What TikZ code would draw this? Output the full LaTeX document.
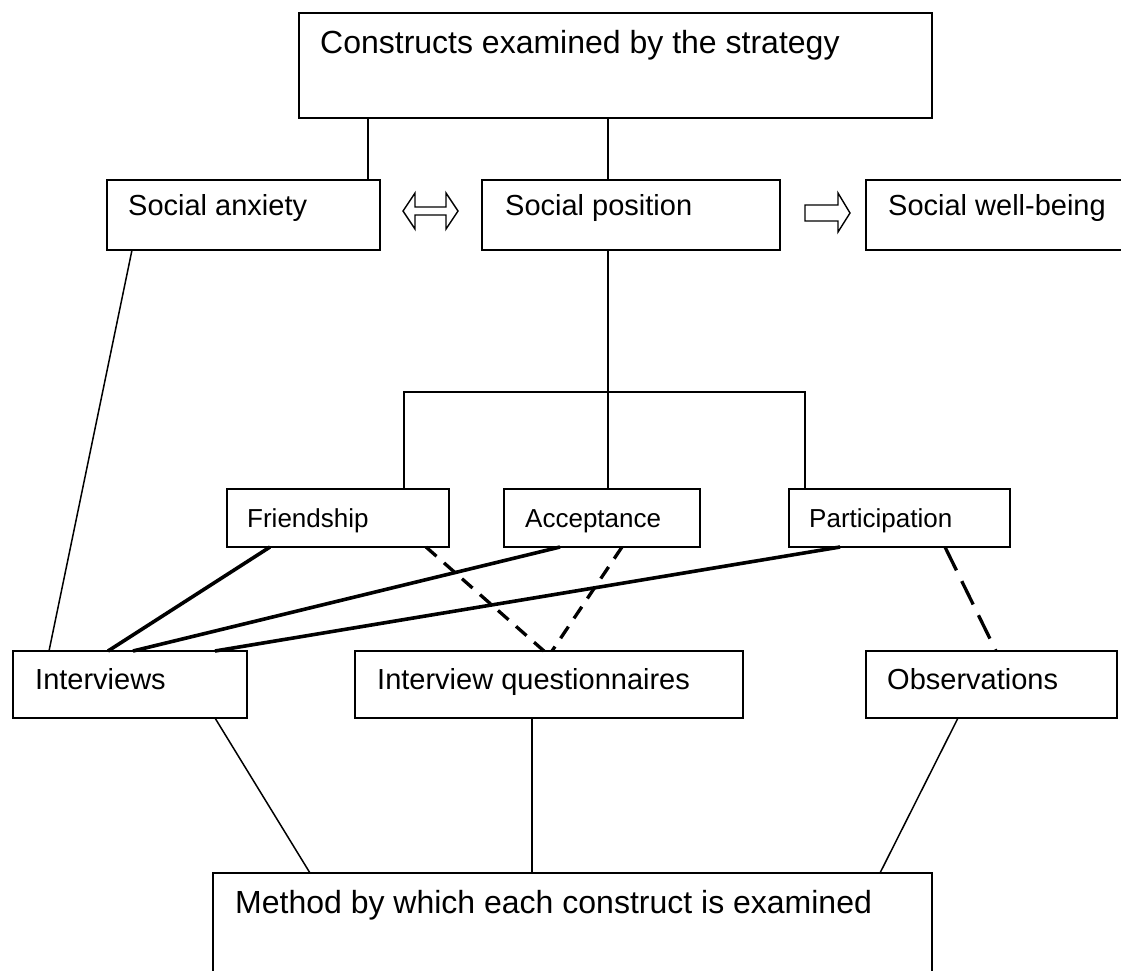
\documentclass[tikz,border=0pt]{standalone}
\usepackage{fontspec}
\setmainfont{Liberation Sans}
\begin{document}
\begin{tikzpicture}[x=1pt,y=-1pt,
  box/.style={draw, line width=1.7pt, inner sep=0pt, outer sep=0pt, anchor=north west},
  headtxt/.style={font=\fontsize{32}{38}\selectfont, anchor=base west, inner sep=0pt},
  maintxt/.style={font=\fontsize{29}{34}\selectfont, anchor=base west, inner sep=0pt},
  subtxt/.style={font=\fontsize{26}{31}\selectfont, anchor=base west, inner sep=0pt},
  conn/.style={line width=1.5pt},
  strongline/.style={line width=3.6pt},
  shortdash/.style={line width=3.3pt, dash pattern=on 14pt off 10pt},
  longdash/.style={line width=3.3pt, dash pattern=on 26pt off 12pt},
  hollow/.style={draw, line width=1.4pt, fill=white, line join=miter}]

\useasboundingbox (0,0) rectangle (1121,970);
\fill[white] (0,0) rectangle (1121,970);

% boxes
\node[box, minimum width=633pt, minimum height=105pt] (con) at (299,13) {};
\node[box, minimum width=273pt, minimum height=70pt] (anx) at (107,180) {};
\node[box, minimum width=298pt, minimum height=70pt] (pos) at (482,180) {};
\node[box, minimum width=280pt, minimum height=70pt] (wel) at (866,180) {};
\node[box, minimum width=222pt, minimum height=58pt] (fri) at (227,489) {};
\node[box, minimum width=196pt, minimum height=58pt] (acc) at (504,489) {};
\node[box, minimum width=221pt, minimum height=58pt] (par) at (789,489) {};
\node[box, minimum width=234pt, minimum height=67pt] (int) at (13,651) {};
\node[box, minimum width=388pt, minimum height=67pt] (que) at (355,651) {};
\node[box, minimum width=251pt, minimum height=67pt] (obs) at (866,651) {};
\node[box, minimum width=719pt, minimum height=120pt] (met) at (213,873) {};

% labels
\node[headtxt] (conT) at ([xshift=21pt,yshift=-40pt]con.north west) {Constructs examined by the strategy};
\node[maintxt] (anxT) at ([xshift=21pt,yshift=-35pt]anx.north west) {Social anxiety};
\node[maintxt] (posT) at ([xshift=23pt,yshift=-35pt]pos.north west) {Social position};
\node[maintxt] (welT) at ([xshift=22pt,yshift=-35pt]wel.north west) {Social well-being};
\node[subtxt] (friT) at ([xshift=20pt,yshift=-38pt]fri.north west) {Friendship};
\node[subtxt] (accT) at ([xshift=21pt,yshift=-38pt]acc.north west) {Acceptance};
\node[subtxt] (parT) at ([xshift=20pt,yshift=-38pt]par.north west) {Participation};
\node[maintxt] (intT) at ([xshift=22pt,yshift=-38pt]int.north west) {Interviews};
\node[maintxt] (queT) at ([xshift=22pt,yshift=-38pt]que.north west) {Interview questionnaires};
\node[maintxt] (obsT) at ([xshift=21pt,yshift=-38pt]obs.north west) {Observations};
\node[headtxt] (metT) at ([xshift=22pt,yshift=-40pt]met.north west) {Method by which each construct is examined};

% hollow arrows between the constructs
\draw[hollow] (403,211) -- (415,193) -- (415,207) -- (446,207) -- (446,193) -- (458,211)
  -- (446,229) -- (446,215) -- (415,215) -- (415,229) -- cycle;
\draw[hollow] (805,205) -- (838,205) -- (838,193) -- (850,213) -- (838,232) -- (838,221)
  -- (805,221) -- cycle;

% tree of constructs
\coordinate (barL) at (404,392);
\coordinate (barR) at (805,392);
\draw[conn] ([xshift=69pt]con.south west) -- ([xshift=261pt]anx.north west);
\draw[conn] ([xshift=309pt]con.south west) -- ([xshift=126pt]pos.north west);
\draw[conn] ([xshift=126pt]pos.south west) -- ([xshift=104pt]acc.north west);
\draw[conn] ([xshift=177pt]fri.north west) -- (barL) -- (barR) -- ([xshift=16pt]par.north west);

% constructs to methods
\draw[conn] ([xshift=25pt]anx.south west) -- ([xshift=36pt]int.north west);
\draw[strongline] ([xshift=43pt]fri.south west) -- ([xshift=95pt]int.north west);
\draw[strongline] ([xshift=56pt]acc.south west) -- ([xshift=120pt]int.north west);
\draw[strongline] ([xshift=51pt]par.south west) -- ([xshift=202pt]int.north west);
\draw[shortdash] ([xshift=199pt]fri.south west) -- ([xshift=189pt]que.north west);
\draw[shortdash] ([xshift=118pt]acc.south west) -- ([xshift=197pt]que.north west);
\draw[longdash] ([xshift=156pt]par.south west) -- ([xshift=130pt]obs.north west);

% methods to the bottom box
\draw[conn] ([xshift=202pt]int.south west) -- ([xshift=97pt]met.north west);
\draw[conn] ([xshift=177pt]que.south west) -- ([xshift=319pt]met.north west);
\draw[conn] ([xshift=92pt]obs.south west) -- ([xshift=667pt]met.north west);
\end{tikzpicture}
\end{document}
